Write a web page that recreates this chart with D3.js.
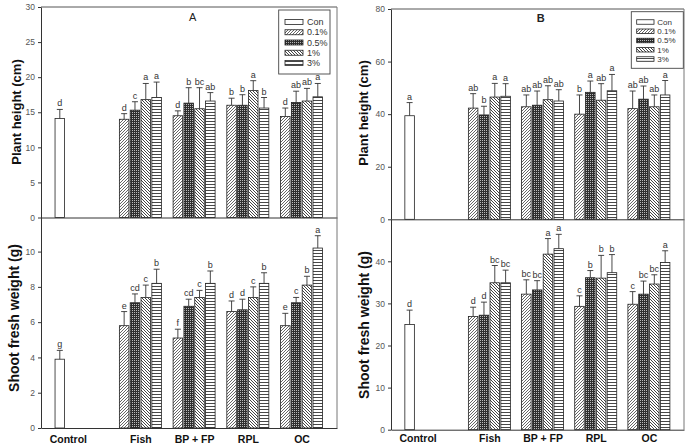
<!DOCTYPE html>
<html>
<head>
<meta charset="UTF-8">
<title></title>
<style>
  body { margin: 0; background: #fff; }
  svg { display: block; font-family: "Liberation Sans", Arial, sans-serif; }
</style>
</head>
<body>
<div id="chart"></div>
<script src="https://d3js.org/d3.v7.min.js"></script>
<script>
// categories
var groups = ["Control", "Fish", "BP + FP", "RPL", "OC"];
var doses = ["0.1%", "0.5%", "1%", "3%"];
var legendNames = ["Con", "0.1%", "0.5%", "1%", "3%"];

// A - plant height (cm): control [mean, sd, letter], then rows Fish, BP+FP, RPL, OC x doses
var aHeightCon = [14.1, 1.3, "d"];
var aHeightMean = [[14.0, 15.3, 16.8, 17.1], [14.5, 16.3, 15.5, 16.6], [16.0, 16.0, 18.1, 15.6], [14.4, 16.4, 16.6, 17.2]];
var aHeightSd = [[0.8, 1.2, 2.3, 2.2], [0.7, 2.2, 3.0, 1.2], [1.0, 1.5, 1.4, 1.5], [1.2, 1.6, 1.8, 1.9]];
var aHeightLetters = [["d", "c", "a", "a"], ["d", "b", "bc", "ab"], ["b", "b", "a", "b"], ["d", "ab", "ab", "a"]];

// A - shoot fresh weight (g)
var aWeightCon = [3.9, 0.5, "g"];
var aWeightMean = [[5.8, 7.1, 7.4, 8.2], [5.1, 6.9, 7.4, 8.2], [6.6, 6.7, 7.4, 8.2], [5.8, 7.1, 8.1, 10.2]];
var aWeightSd = [[0.8, 0.5, 0.7, 0.8], [0.5, 0.4, 0.4, 0.7], [0.6, 0.6, 0.6, 0.6], [0.7, 0.3, 0.5, 0.7]];
var aWeightLetters = [["e", "cd", "c", "b"], ["f", "cd", "c", "b"], ["d", "d", "c", "b"], ["e", "c", "b", "a"]];

// B - plant height (cm)
var bHeightCon = [39.4, 5.0, "a"];
var bHeightMean = [[42.3, 39.7, 46.5, 46.8], [42.8, 43.4, 45.5, 45.0], [40.0, 48.3, 45.3, 48.9], [42.1, 45.7, 42.8, 47.3]];
var bHeightSd = [[5.5, 3.3, 5.2, 4.8], [4.5, 5.4, 5.3, 4.3], [7.3, 4.3, 6.3, 6.2], [6.7, 5.0, 4.5, 5.5]];
var bHeightLetters = [["ab", "b", "a", "a"], ["ab", "ab", "ab", "ab"], ["b", "a", "ab", "a"], ["ab", "ab", "ab", "a"]];

// B - shoot fresh weight (g)
var bWeightCon = [25.0, 3.4, "d"];
var bWeightMean = [[26.9, 27.2, 34.9, 34.9], [32.2, 33.2, 41.7, 43.0], [29.3, 36.1, 36.0, 37.3], [29.8, 32.2, 34.6, 39.7]];
var bWeightSd = [[2.2, 3.1, 4.1, 3.0], [3.4, 2.2, 3.7, 3.4], [2.5, 1.7, 5.4, 4.3], [3.0, 3.1, 2.2, 2.8]];
var bWeightLetters = [["d", "d", "bc", "bc"], ["bc", "bc", "a", "a"], ["c", "b", "b", "b"], ["c", "bc", "bc", "a"]];

var width = 688, height = 444;

var svg = d3.select("#chart").append("svg")
  .attr("width", width)
  .attr("height", height);

// fill patterns for the treatment levels
var defs = svg.append("defs");

var p1 = defs.append("pattern").attr("id", "p01").attr("patternUnits", "userSpaceOnUse")
  .attr("width", 3).attr("height", 3);
p1.append("rect").attr("width", 3).attr("height", 3).attr("fill", "#fff");
p1.append("path").attr("d", "M-1,1 L1,-1 M0,3 L3,0 M2,4 L4,2")
  .attr("stroke", "#555").attr("stroke-width", 0.9);

var p2 = defs.append("pattern").attr("id", "p05").attr("patternUnits", "userSpaceOnUse")
  .attr("width", 2).attr("height", 2);
p2.append("rect").attr("width", 2).attr("height", 2).attr("fill", "#2e2e2e");
p2.append("rect").attr("width", 1).attr("height", 1).attr("fill", "#bbb");

var p3 = defs.append("pattern").attr("id", "p1").attr("patternUnits", "userSpaceOnUse")
  .attr("width", 3).attr("height", 3);
p3.append("rect").attr("width", 3).attr("height", 3).attr("fill", "#fff");
p3.append("path").attr("d", "M-1,2 L1,4 M0,0 L3,3 M2,-1 L4,1")
  .attr("stroke", "#444").attr("stroke-width", 1);

var p4 = defs.append("pattern").attr("id", "p3").attr("patternUnits", "userSpaceOnUse")
  .attr("width", 4).attr("height", 3);
p4.append("rect").attr("width", 4).attr("height", 3).attr("fill", "#fff");
p4.append("path").attr("d", "M0,1.5 L4,1.5").attr("stroke", "#333").attr("stroke-width", 0.9);

var fills = ["#fff", "url(#p01)", "url(#p05)", "url(#p1)", "url(#p3)"];

// category position: control stands apart from the treatments
function pos(i) { return i === 0 ? 0 : i + 0.5; }

function drawPanel(p) {
  var x = d3.scaleLinear().domain([-0.35, 5.16]).range([p.left, p.right]);
  var y = d3.scaleLinear().domain([0, p.max]).range([p.bottom, p.top]);
  var slot = d3.scaleBand().domain(doses).range([-21, 21]).paddingInner(0.12);
  var bw = slot.bandwidth();

  var g = svg.append("g");

  // frame
  if (p.frameTop) {
    g.append("line").attr("x1", p.left).attr("x2", p.right).attr("y1", y(p.max)).attr("y2", y(p.max))
      .attr("stroke", "#555").attr("stroke-width", 1);
  }
  g.append("line").attr("x1", p.right).attr("x2", p.right).attr("y1", p.frameTopY).attr("y2", p.bottom)
    .attr("stroke", "#777").attr("stroke-width", 1);

  // rows of bars
  var rows = [{ v: p.con[0], sd: p.con[1], l: p.con[2], cx: x(pos(0)), f: fills[0] }];
  for (var i = 0; i < 4; i++) {
    for (var j = 0; j < 4; j++) {
      rows.push({
        v: p.mean[i][j], sd: p.sd[i][j], l: p.letters[i][j],
        cx: x(pos(i + 1)) + slot(doses[j]) + bw / 2, f: fills[j + 1]
      });
    }
  }

  g.selectAll("rect.bar").data(rows).join("rect")
    .attr("class", "bar")
    .attr("x", function(d) { return d.cx - bw / 2; })
    .attr("y", function(d) { return y(d.v); })
    .attr("width", bw)
    .attr("height", function(d) { return y(0) - y(d.v); })
    .attr("fill", function(d) { return d.f; })
    .attr("stroke", "#222")
    .attr("stroke-width", 0.8);

  // error bars (upper only)
  g.selectAll("path.err").data(rows).join("path")
    .attr("class", "err")
    .attr("d", function(d) {
      var t = y(d.v + d.sd);
      return "M" + d.cx + "," + y(d.v) + "V" + t + "M" + (d.cx - 3) + "," + t + "H" + (d.cx + 3);
    })
    .attr("stroke", "#333").attr("stroke-width", 0.9).attr("fill", "none");

  g.selectAll("text.sig").data(rows).join("text")
    .attr("class", "sig")
    .attr("x", function(d) { return d.cx; })
    .attr("y", function(d) { return y(d.v + d.sd) - 3; })
    .attr("text-anchor", "middle")
    .attr("font-size", "9px")
    .attr("fill", "#333")
    .text(function(d) { return d.l; });

  // y axis
  var yAxis = d3.axisLeft(y).tickValues(p.ticks).tickSize(3).tickSizeOuter(0).tickPadding(3);
  var ya = g.append("g").attr("transform", "translate(" + p.left + ",0)").call(yAxis);
  ya.select(".domain").attr("stroke", "#333");
  ya.selectAll(".tick line").attr("stroke", "#333");
  ya.selectAll(".tick text").attr("font-size", "8.5px").attr("fill", "#555")
    .attr("font-family", "Liberation Sans, Arial, sans-serif");

  // x axis
  var xAxis = d3.axisBottom(x).tickSize(0).tickSizeOuter(0)
    .tickValues(p.showLabels ? groups.map(function(d, i) { return pos(i); }) : [])
    .tickFormat(function(d, i) { return groups[i]; });
  var xa = g.append("g").attr("transform", "translate(0," + p.bottom + ")").call(xAxis);
  xa.select(".domain").attr("stroke", "#333");
  xa.selectAll(".tick text")
    .attr("font-size", "10.5px").attr("font-weight", "bold").attr("fill", "#111")
    .attr("font-family", "Liberation Sans, Arial, sans-serif")
    .attr("dy", "0")
    .attr("y", 442.5 - p.bottom)
    .attr("dx", function(d, i) { return i === 0 ? 8 : 0; });

  // y title
  g.append("text")
    .attr("transform", "translate(" + p.titleX + "," + p.titleY + ") rotate(-90)")
    .attr("text-anchor", "middle")
    .attr("dy", "0.35em")
    .attr("font-size", p.titleSize)
    .attr("font-weight", "bold")
    .attr("fill", "#111")
    .text(p.title);
}

function drawLegend(lg) {
  var g = svg.append("g");
  g.append("rect").attr("x", lg.x).attr("y", lg.y).attr("width", lg.w).attr("height", lg.h)
    .attr("fill", "#fff").attr("stroke", "#444").attr("stroke-width", 0.9);
  var ly = d3.scalePoint().domain(legendNames).range([lg.y0, lg.y1]);
  g.selectAll("rect.sw").data(legendNames).join("rect")
    .attr("class", "sw")
    .attr("x", lg.sx).attr("y", function(d) { return ly(d) - lg.sh / 2; })
    .attr("width", lg.sw).attr("height", lg.sh)
    .attr("fill", function(d, i) { return fills[i]; })
    .attr("stroke", "#222").attr("stroke-width", 0.8);
  g.selectAll("text").data(legendNames).join("text")
    .attr("x", lg.tx).attr("y", function(d) { return ly(d); })
    .attr("dy", "0.35em")
    .attr("font-size", lg.fs)
    .attr("fill", "#333")
    .text(function(d) { return d; });
}

drawPanel({ left: 41, right: 337, top: 7, bottom: 217.5, max: 30, ticks: [0, 5, 10, 15, 20, 25, 30],
  frameTop: true, frameTopY: 7, showLabels: false,
  con: aHeightCon, mean: aHeightMean, sd: aHeightSd, letters: aHeightLetters,
  title: "Plant height (cm)", titleX: 16, titleY: 112, titleSize: "13px" });
drawPanel({ left: 41, right: 337, top: 216.3, bottom: 428, max: 12, ticks: [0, 2, 4, 6, 8, 10],
  frameTop: false, frameTopY: 217.5, showLabels: true,
  con: aWeightCon, mean: aWeightMean, sd: aWeightSd, letters: aWeightLetters,
  title: "Shoot fresh weight (g)", titleX: 14, titleY: 318, titleSize: "14px" });
drawPanel({ left: 391, right: 684, top: 9, bottom: 219.3, max: 80, ticks: [0, 20, 40, 60, 80],
  frameTop: true, frameTopY: 9, showLabels: false,
  con: bHeightCon, mean: bHeightMean, sd: bHeightSd, letters: bHeightLetters,
  title: "Plant height (cm)", titleX: 363, titleY: 113, titleSize: "13px" });
drawPanel({ left: 391, right: 684, top: 219.2, bottom: 429.7, max: 50, ticks: [0, 10, 20, 30, 40],
  frameTop: false, frameTopY: 219.3, showLabels: true,
  con: bWeightCon, mean: bWeightMean, sd: bWeightSd, letters: bWeightLetters,
  title: "Shoot fresh weight (g)", titleX: 364, titleY: 325, titleSize: "14px" });

drawLegend({ x: 278.7, y: 10, w: 51.3, h: 64, sx: 285, sw: 18, sh: 5, tx: 307,
  y0: 22, y1: 63, fs: "9px" });
drawLegend({ x: 631.3, y: 11.7, w: 52, h: 56.6, sx: 636.7, sw: 17.3, sh: 4.5, tx: 657.3,
  y0: 22, y1: 59, fs: "8px" });

// panel letters
svg.append("text").attr("x", 192.7).attr("y", 21.3).attr("text-anchor", "middle")
  .attr("font-size", "11px").attr("fill", "#222").text("A");
svg.append("text").attr("x", 540.7).attr("y", 21.7).attr("text-anchor", "middle")
  .attr("font-size", "11px").attr("font-weight", "bold").attr("fill", "#222").text("B");
</script>
</body>
</html>
